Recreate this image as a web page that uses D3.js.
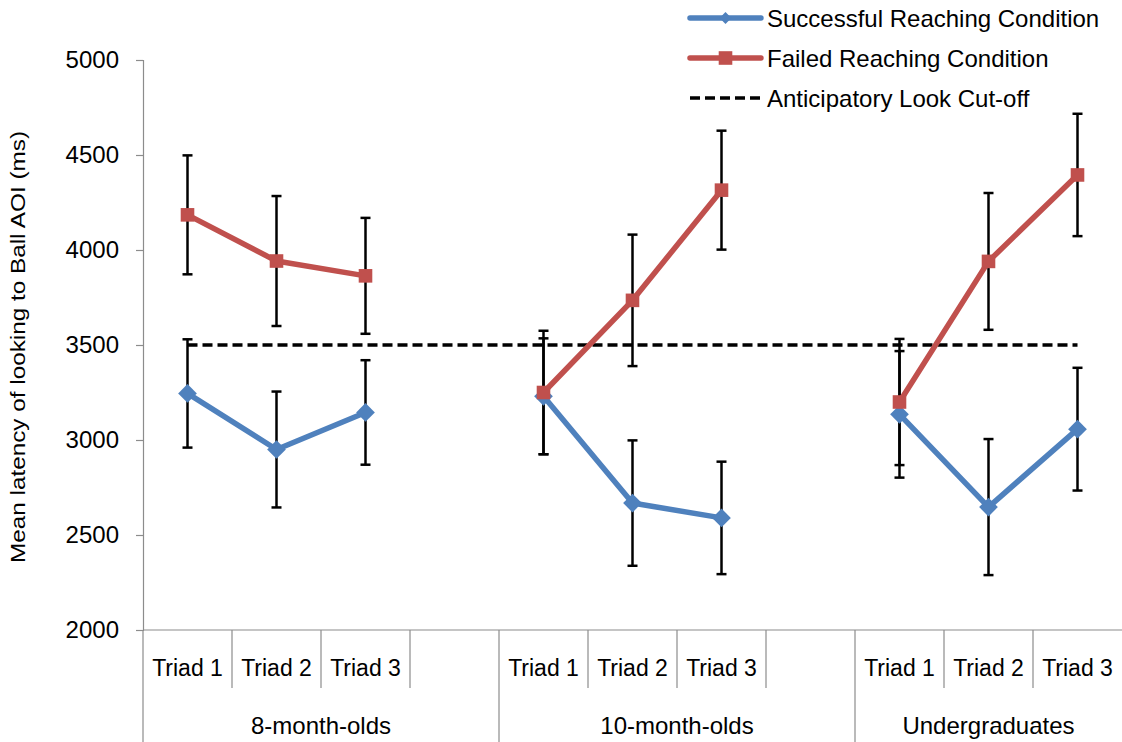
<!DOCTYPE html>
<html>
<head>
<meta charset="utf-8">
<script src="https://cdn.jsdelivr.net/npm/d3@7"></script>
<style>
  html, body { margin: 0; padding: 0; background: #fff; }
  svg { display: block; font-family: "Liberation Sans", Arial, sans-serif; }
</style>
</head>
<body>
<svg id="chart" width="1122" height="742"></svg>
<script>
// Age groups and trial triads shown on the two-level category axis
const groups = ["8-month-olds", "10-month-olds", "Undergraduates"];
const triads = ["Triad 1", "Triad 2", "Triad 3"];

// Mean latency (ms) per group, per triad
const successMean = [[3245, 2950, 3145], [3230, 2668, 2590], [3135, 2647, 3057]];
const successErr  = [[285, 305, 275], [305, 330, 296], [333, 358, 323]];
const failedMean  = [[4185, 3942, 3864], [3250, 3735, 4315], [3200, 3940, 4395]];
const failedErr   = [[313, 342, 305], [325, 346, 313], [332, 360, 322]];

const cutoff = 3500;
const yTicks = [2000, 2500, 3000, 3500, 4000, 4500, 5000];
const legendLabels = ["Successful Reaching Condition", "Failed Reaching Condition", "Anticipatory Look Cut-off"];

const BLUE = "#4F81BD", RED = "#C0504D", AXIS = "#8c8c8c";

// Flatten into category slots; an empty spacer slot follows every group but the last
const slots = [];
groups.forEach((g, gi) => {
  triads.forEach((t, ti) => slots.push({ group: gi, triad: ti, label: t }));
  if (gi < groups.length - 1) slots.push({ group: gi, triad: null, label: "" });
});

const svg = d3.select("#chart");
const plotLeft = 143, plotRight = 1122, plotTop = 60, plotBottom = 630;

const x = d3.scaleBand().domain(d3.range(slots.length)).range([plotLeft, plotRight]).padding(0);
const y = d3.scaleLinear().domain([2000, 5000]).range([plotBottom, plotTop]);
const cx = i => x(i) + x.bandwidth() / 2;

// Y axis
const yAxis = svg.append("g").attr("transform", `translate(${plotLeft},0)`)
  .call(d3.axisLeft(y).tickValues(yTicks).tickFormat(d3.format("d")).tickSize(7).tickPadding(17));
yAxis.select(".domain").attr("stroke", AXIS).attr("stroke-width", 1.2);
yAxis.selectAll(".tick line").attr("stroke", AXIS).attr("stroke-width", 1.2);
yAxis.selectAll(".tick text").attr("font-size", 24).attr("fill", "#000")
  .attr("font-family", "Liberation Sans, Arial, sans-serif");
// extend the left axis line down through the category label area
svg.append("line").attr("x1", plotLeft).attr("x2", plotLeft).attr("y1", plotBottom).attr("y2", 742)
  .attr("stroke", AXIS).attr("stroke-width", 1.2);

svg.append("text")
  .attr("transform", `translate(25,${(plotTop + plotBottom) / 2 + 2}) rotate(-90)`)
  .attr("text-anchor", "middle").attr("font-size", 21).attr("fill", "#000")
  .attr("textLength", 432).attr("lengthAdjust", "spacingAndGlyphs")
  .text("Mean latency of looking to Ball AOI (ms)");

// X axis baseline
svg.append("line").attr("x1", plotLeft).attr("x2", plotRight).attr("y1", plotBottom).attr("y2", plotBottom)
  .attr("stroke", AXIS).attr("stroke-width", 1.2);

// Category dividers: short between triads, full height between groups
slots.forEach((s, i) => {
  if (i === 0) return;
  const xs = x(i);
  const groupBreak = slots[i - 1].group !== s.group;
  svg.append("line").attr("x1", xs).attr("x2", xs)
    .attr("y1", plotBottom).attr("y2", groupBreak ? 742 : 688)
    .attr("stroke", AXIS).attr("stroke-width", 1.2);
});

// Triad labels
svg.append("g").selectAll("text").data(slots.filter(s => s.label)).join("text")
  .attr("x", s => cx(slots.indexOf(s)))
  .attr("y", 676).attr("text-anchor", "middle").attr("font-size", 23).attr("fill", "#000")
  .text(s => s.label);

// Group labels centred under their slot span
groups.forEach((g, gi) => {
  const idx = slots.map((s, i) => s.group === gi ? i : -1).filter(i => i >= 0);
  const x0 = x(idx[0]), x1 = x(idx[idx.length - 1]) + x.bandwidth();
  svg.append("text").attr("x", (x0 + x1) / 2).attr("y", 734)
    .attr("text-anchor", "middle").attr("font-size", 24).attr("fill", "#000").text(g);
});

// Cut-off reference line across all category slots
svg.append("line")
  .attr("x1", cx(0)).attr("x2", cx(slots.length - 1))
  .attr("y1", y(cutoff)).attr("y2", y(cutoff))
  .attr("stroke", "#000").attr("stroke-width", 3.5).attr("stroke-dasharray", "10,5");

// Build point data per series
function seriesPoints(means, errs) {
  const pts = [];
  slots.forEach((s, i) => {
    if (s.triad === null) return;
    pts.push({ i, group: s.group, v: means[s.group][s.triad], e: errs[s.group][s.triad] });
  });
  return pts;
}
const series = [
  { pts: seriesPoints(successMean, successErr), color: BLUE, marker: "diamond" },
  { pts: seriesPoints(failedMean, failedErr), color: RED, marker: "square" }
];

// Error bars
series.forEach(sr => {
  const g = svg.append("g").attr("stroke", "#000").attr("stroke-width", 2.5);
  sr.pts.forEach(p => {
    const xc = cx(p.i);
    g.append("line").attr("x1", xc).attr("x2", xc).attr("y1", y(p.v + p.e)).attr("y2", y(p.v - p.e));
    [p.v + p.e, p.v - p.e].forEach(v =>
      g.append("line").attr("x1", xc - 5).attr("x2", xc + 5).attr("y1", y(v)).attr("y2", y(v)));
  });
});

// Lines (broken between groups) and markers
const line = d3.line().x(p => cx(p.i)).y(p => y(p.v));
series.forEach(sr => {
  groups.forEach((g, gi) => {
    svg.append("path").datum(sr.pts.filter(p => p.group === gi))
      .attr("d", line).attr("fill", "none").attr("stroke", sr.color)
      .attr("stroke-width", 5.5).attr("stroke-linejoin", "round");
  });
  const sym = sr.marker === "diamond"
    ? d3.symbol().type(d3.symbolSquare).size(175)
    : d3.symbol().type(d3.symbolSquare).size(185);
  svg.append("g").selectAll("path").data(sr.pts).join("path")
    .attr("d", sym)
    .attr("transform", p => `translate(${cx(p.i)},${y(p.v)})` + (sr.marker === "diamond" ? " rotate(45)" : ""))
    .attr("fill", sr.color);
});

// Legend
const legend = svg.append("g");
const legendRows = [
  { y: 18, color: BLUE, marker: "diamond" },
  { y: 58, color: RED, marker: "square" },
  { y: 98, color: "#000", marker: null }
];
legendRows.forEach((r, k) => {
  if (r.marker) {
    legend.append("line").attr("x1", 690).attr("x2", 761).attr("y1", r.y).attr("y2", r.y)
      .attr("stroke", r.color).attr("stroke-width", 5.5).attr("stroke-linecap", "round");
    const sym = r.marker === "diamond"
      ? d3.symbol().type(d3.symbolSquare).size(70)
      : d3.symbol().type(d3.symbolSquare).size(185);
    legend.append("path").attr("d", sym)
      .attr("transform", `translate(725.5,${r.y})` + (r.marker === "diamond" ? " rotate(45)" : ""))
      .attr("fill", r.color);
  } else {
    legend.append("line").attr("x1", 690).attr("x2", 761).attr("y1", r.y).attr("y2", r.y)
      .attr("stroke", "#000").attr("stroke-width", 3.5).attr("stroke-dasharray", "10,5");
  }
  legend.append("text").attr("x", 767).attr("y", r.y + 9).attr("font-size", 24).attr("fill", "#000")
    .text(legendLabels[k]);
});
</script>
</body>
</html>
